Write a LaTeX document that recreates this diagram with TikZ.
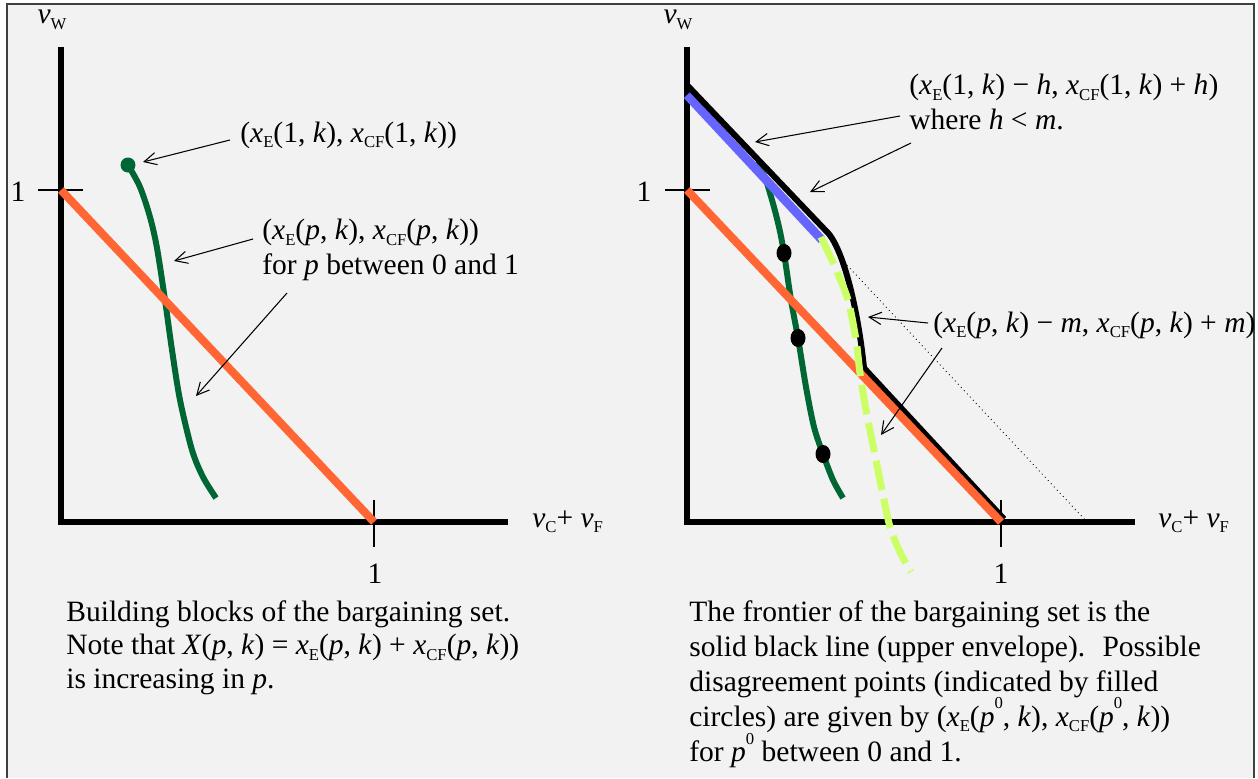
\documentclass[tikz,border=0pt]{standalone}
\usepackage{fontspec}
\setmainfont{Liberation Serif}
\usepackage{tikz}
\usetikzlibrary{
    calc,
    arrows.meta
}
\definecolor{panelgray}{HTML}{F2F2F2}
\definecolor{orangeline}{HTML}{FF6633}
\definecolor{darkgreen}{HTML}{006633}
\definecolor{blueline}{HTML}{6666FF}
\definecolor{limeline}{HTML}{CCFF66}
\newcommand{\lowsub}[1]{\raisebox{-0.4ex}{\fontsize{9.5}{10}\selectfont #1}}
\newcommand{\highsup}[1]{\raisebox{1.3ex}{\fontsize{9.5}{10}\selectfont #1}}
\newcommand{\xE}{\textit{x}\lowsub{E}}
\newcommand{\xCF}{\textit{x}\lowsub{CF}}
\tikzset{
    axisline/.style={line width=3.4pt,line join=miter},
    tickline/.style={line width=0.6pt},
    callout/.style={-{Straight Barb[length=7pt,width=7pt]},line width=0.6pt},
    lbl/.style={font=\fontsize{16.8}{19.9}\selectfont,inner sep=0pt},
    budget/.style={orangeline,line width=4.6pt},
    pcurve/.style={darkgreen,line width=3.4pt},
}

\begin{document}
\begin{tikzpicture}[x=0.02cm,y=-0.02cm]
%\draw [help lines,step=50](0,0) grid (1258,778);
\useasboundingbox (0,0) rectangle (1258,778);
\fill [panelgray] (7,4) rectangle (1254,778);
\draw [line width=1pt,black!75] (7,778) -- (7,4) -- (1254,4) -- (1254,778);

% left panel
\draw [axisline] (61,47) -- (61,522) -- (508,522);
\draw [tickline] (38,190) -- (83,190);
\draw [tickline] (374,500) -- (374,547);
\node [lbl] (vwL) at (52,20) {\textit{v}\lowsub{W}};
\node [lbl] (oneyL) at (18,192) {1};
\node [lbl] (onexL) at (375,574) {1};
\node [lbl,anchor=west] (vcfL) at (532,522) {\textit{v}\lowsub{C}+ \textit{v}\lowsub{F}};
\draw [pcurve] plot [smooth] coordinates {(128,165) (140,187) (150,217) (157,248) (165,300) (172,350) (180,400) (192,450) (203,477) (216,498)};
\fill [darkgreen] (128,165) circle (0.15cm);
\draw [budget] (61,190) -- (374,522);
\node [lbl,anchor=west] (topL) at (240,135) {(\xE(1, \textit{k}), \xCF(1, \textit{k}))};
\node [lbl,anchor=north west,align=left] (curveL) at (262,219) {(\xE(\textit{p}, \textit{k}), \xCF(\textit{p}, \textit{k}))\\for \textit{p} between 0 and 1};
\coordinate (a1) at (230,140);
\coordinate (a1') at (143,162);
\coordinate (a2) at (253,239);
\coordinate (a2') at (174,261);
\coordinate (a3) at (287,293);
\coordinate (a3') at (196,396);
\draw [callout] (a1) -- (a1');
\draw [callout] (a2) -- (a2');
\draw [callout] (a3) -- (a3');
\node [lbl,anchor=north west,align=left,font=\fontsize{16.8}{19.2}\selectfont] (textL) at (66,600) {Building blocks of the bargaining set.\\Note that \textit{X}(\textit{p}, \textit{k}) = \xE(\textit{p}, \textit{k}) + \xCF(\textit{p}, \textit{k}))\\is increasing in \textit{p}.};

% right panel
\draw [axisline] (687,47) -- (687,522) -- (1135,522);
\draw [tickline] (665,190) -- (710,190);
\draw [tickline] (1001,500) -- (1001,547);
\node [lbl] (vwR) at (678,20) {\textit{v}\lowsub{W}};
\node [lbl] (oneyR) at (644,192) {1};
\node [lbl] (onexR) at (1001,574) {1};
\node [lbl,anchor=west] (vcfR) at (1158,522) {\textit{v}\lowsub{C}+ \textit{v}\lowsub{F}};
\draw [pcurve] plot [smooth] coordinates {(755,163) (764,175) (772,200) (779,227) (784,253) (791,300) (798,338) (806,387) (814,427) (823,454) (833,480) (843,498)};
\draw [blueline,line width=5pt] (687,95) -- (822,240);
\draw [line width=3.4pt,line join=round] (687,85) -- (829,234) .. controls (846,256) and (859,318) .. (864,368) -- (1004,519);
\draw [budget] (687,190) -- (1001,522);
\fill [black] (784,253) ellipse [x radius=0.15cm,y radius=0.18cm];
\fill [black] (798,338) ellipse [x radius=0.15cm,y radius=0.18cm];
\fill [black] (823,454) ellipse [x radius=0.15cm,y radius=0.18cm];
\draw [dotted,line width=0.5pt] (844,262) -- (1087,522);
\draw [limeline,line width=4pt,dash pattern=on 17pt off 5pt] plot [smooth] coordinates {(821,237) (835,267) (848,300) (856,340) (860,373) (866,410) (873,445) (882,490) (890,527) (900,552) (911,572)};
\node [lbl,anchor=north west,align=left] (topR) at (909,74) {(\xE(1, \textit{k}) − \textit{h}, \xCF(1, \textit{k}) + \textit{h})\\where \textit{h} < \textit{m}.};
\node [lbl,anchor=west] (curveR) at (933,325) {(\xE(\textit{p}, \textit{k}) − \textit{m}, \xCF(\textit{p}, \textit{k}) + \textit{m})};
\coordinate (b1) at (900,116);
\coordinate (b1') at (755,142);
\coordinate (b2) at (911,143);
\coordinate (b2') at (810,192);
\coordinate (b3) at (928,323);
\coordinate (b3') at (868,317);
\coordinate (b4) at (942,348);
\coordinate (b4') at (881,435);
\draw [callout] (b1) -- (b1');
\draw [callout] (b2) -- (b2');
\draw [callout] (b3) -- (b3');
\draw [callout] (b4) -- (b4');
\node [lbl,anchor=north west,align=left,font=\fontsize{16.8}{20}\selectfont] (textR) at (689,600) {The frontier of the bargaining set is the\\solid black line (upper envelope).~ Possible\\disagreement points (indicated by filled\\circles) are given by (\xE(\textit{p}\highsup{0}, \textit{k}), \xCF(\textit{p}\highsup{0}, \textit{k}))\\for \textit{p}\highsup{0} between 0 and 1.};
\end{tikzpicture}
\end{document}
